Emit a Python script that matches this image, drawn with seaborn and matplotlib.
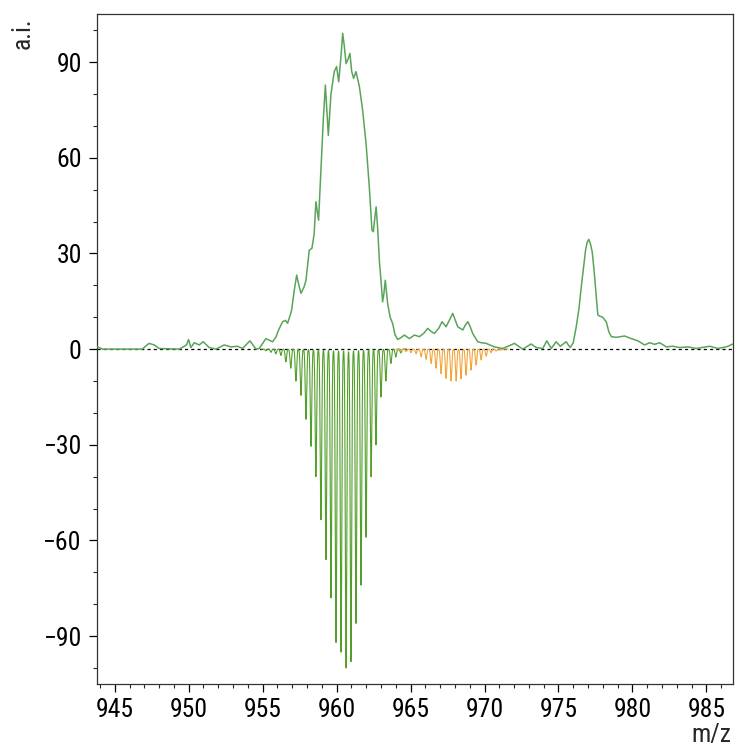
import numpy as np
import pandas as pd
import matplotlib
matplotlib.use("Agg")
import matplotlib.pyplot as plt
import seaborn as sns
from matplotlib.ticker import MultipleLocator
from matplotlib import font_manager

exp_mz = [943.83, 944.17, 946.87, 947.10, 947.33, 947.67, 948.00, 949.36, 949.85, 949.99, 950.15,
          950.37, 950.71, 950.98, 951.39, 951.84, 952.40, 952.86, 953.30, 953.64, 954.14,
          954.55, 954.77, 955.00, 955.22, 955.45, 955.67, 955.90, 956.08, 956.35, 956.55, 956.69,
          956.95, 957.14, 957.30, 957.45, 957.59, 957.80,
          957.93, 958.15, 958.33, 958.48, 958.60, 958.78, 958.94, 959.10, 959.24, 959.44, 959.62, 959.84,
          960.00, 960.14, 960.30, 960.41, 960.52, 960.64, 960.78, 960.90, 961.02, 961.15, 961.31, 961.54,
          961.76, 961.99, 962.21, 962.39, 962.48, 962.58, 962.67, 962.77, 962.90, 963.00, 963.11, 963.20,
          963.29, 963.45, 963.62, 963.79, 963.95,
          964.13, 964.35, 964.58, 964.92, 965.26, 965.60, 965.90, 966.16, 966.40, 966.61, 966.90,
          967.13, 967.40, 967.62, 967.85, 968.03,
          968.19, 968.53, 968.70, 968.87, 969.05, 969.20, 969.54, 969.80, 970.11, 970.67, 971.23, 971.60,
          972.02, 972.58, 973.15, 973.49, 973.94, 974.21, 974.51, 974.84, 975.12, 975.52, 975.79, 976.00,
          976.20, 976.38, 976.54, 976.70, 976.83, 976.94, 977.05, 977.16, 977.28, 977.40, 977.50, 977.66,
          977.80, 977.96, 978.23, 978.40, 978.57, 978.90,
          979.47, 979.92, 980.37, 980.82, 981.16, 981.50, 981.84, 982.29, 982.73, 983.19,
          983.75, 984.32, 985.22, 985.78, 986.35, 986.80]
exp_int = [0.7, 0.0, 0.0, 1.0, 1.8, 1.3, 0.2, 0.0, 1.3, 3.0, 0.5,
           2.0, 1.3, 2.3, 0.5, 0.0, 1.3, 0.7, 0.9, 0.2, 2.6,
           0.0, 0.2, 1.8, 3.3, 2.8, 2.3, 3.8, 6.0, 8.6, 9.0, 8.1,
           12.0, 18.5, 23.2, 20.0, 17.5, 19.5,
           21.6, 31.0, 31.6, 36.0, 46.2, 40.4, 56.0, 72.0, 82.8, 67.0, 80.0, 87.0,
           88.6, 83.8, 92.0, 99.0, 95.0, 89.5, 91.0, 92.7, 87.0, 84.9, 87.0, 82.3,
           74.9, 64.5, 50.9, 37.3, 36.8, 41.0, 44.6, 38.4, 27.0, 21.6, 14.8, 17.5,
           21.6, 14.3, 10.0, 8.0, 4.5,
           3.0, 3.6, 4.4, 3.3, 4.4, 3.9, 5.0, 6.5, 5.5, 4.9, 6.5,
           8.6, 7.0, 9.0, 11.2, 9.0,
           7.0, 6.0, 7.5, 8.6, 6.8, 4.9, 2.3, 2.0, 1.8, 0.7, 0.2, 0.9,
           1.8, 0.0, 1.6, 0.5, 0.2, 2.6, 0.2, 2.3, 0.9, 2.3, 0.5, 2.0,
           7.0, 12.5, 19.5, 26.0, 31.0, 33.5, 34.4, 33.0, 30.5, 25.0, 19.5, 10.7,
           10.3, 10.1, 8.6, 5.5, 3.9, 3.7,
           4.1, 3.3, 2.6, 1.3, 2.0, 1.5, 2.0, 0.7, 0.9, 0.5,
           0.7, 0.2, 0.9, 0.2, 0.7, 1.6]

# ---- simulated isotope pattern 1 (green, mirrored below) ----
sim1_mz = [955.22, 955.56, 955.89, 956.23, 956.57, 956.90, 957.25, 957.59, 957.93, 958.27,
           958.60, 958.94, 959.28, 959.62, 959.96, 960.30, 960.64, 960.97, 961.31, 961.65,
           961.99, 962.33, 962.66, 963.00, 963.33, 963.67, 964.00, 964.34]
sim1_int = [0.5, 1.0, 1.5, 2.0, 4.0, 6.0, 10.0, 14.5, 22.0, 30.5,
            40.0, 53.5, 66.0, 78.0, 92.0, 95.0, 100.0, 98.0, 86.0, 74.0,
            59.0, 40.0, 30.0, 15.0, 10.0, 4.5, 2.5, 1.2]

# ---- simulated isotope pattern 2 (orange, mirrored below) ----
sim2_mz = [964.36, 964.70, 965.03, 965.37, 965.71, 966.05, 966.39, 966.72, 967.06, 967.40,
           967.74, 968.08, 968.41, 968.75, 969.09, 969.43, 969.77, 970.11, 970.44, 970.78,
           971.12]
sim2_int = [0.5, 0.8, 1.1, 1.5, 2.4, 3.2, 4.5, 6.0, 7.7, 9.2,
            10.0, 10.0, 9.3, 8.2, 6.6, 5.0, 3.4, 2.2, 1.1, 0.6,
            0.3]

x_ticks = [945, 950, 955, 960, 965, 970, 975, 980, 985]
y_ticks = [-90, -60, -30, 0, 30, 60, 90]


def profile(centers, heights, lo, hi, sigma=0.05):
    grid = np.arange(lo, hi, 0.003)
    c = np.asarray(centers)[:, None]
    h = np.asarray(heights)[:, None]
    y = -(h * np.exp(-0.5 * ((grid[None, :] - c) / sigma) ** 2)).sum(axis=0)
    return pd.DataFrame({"mz": grid, "int": y})


sns.set_theme(style="ticks")
names = {f.name for f in font_manager.fontManager.ttflist}
if "Roboto Condensed" in names:
    main_font, fsize = "Roboto Condensed", 18.5
else:
    main_font, fsize = "Liberation Sans", 17
plt.rcParams["font.family"] = [main_font, "DejaVu Sans"]

fig = plt.figure(figsize=(7.37, 7.47), dpi=100)
ax = fig.add_axes([0.1316, 0.0843, 0.8630, 0.8967])

ax.axhline(0, color="black", lw=0.9, ls=(0, (2.5, 2.5)), zorder=1)

df1 = profile(sim1_mz, sim1_int, 954.9, 964.7)
df2 = profile(sim2_mz, sim2_int, 964.0, 971.6)
sns.lineplot(data=df1, x="mz", y="int", ax=ax, color="#52a02a", lw=0.8,
             estimator=None, sort=False, zorder=2)
sns.lineplot(data=df2, x="mz", y="int", ax=ax, color="#f2a53a", lw=0.8,
             estimator=None, sort=False, zorder=2)

exp_df = pd.DataFrame({"mz": exp_mz, "int": exp_int})
sns.lineplot(data=exp_df, x="mz", y="int", ax=ax, color="#5aa45a", lw=1.1,
             estimator=None, sort=False, zorder=3)

ax.set_xlim(943.8, 986.8)
ax.set_ylim(-105, 105)
ax.set_xticks(x_ticks)
ax.set_yticks(y_ticks)
ax.xaxis.set_minor_locator(MultipleLocator(1))
ax.yaxis.set_minor_locator(MultipleLocator(10))
ax.tick_params(axis="both", which="major", direction="out", length=6, width=0.9,
               labelsize=fsize, colors="black")
ax.tick_params(axis="x", which="major", pad=4)
ax.tick_params(axis="y", which="major", pad=5)
ax.tick_params(axis="both", which="minor", direction="out", length=3, width=0.8)
for s in ax.spines.values():
    s.set_visible(True)
    s.set_linewidth(0.9)
    s.set_color("#333333")
ax.set_xlabel("")
ax.set_ylabel("")

fig.text(0.031, 0.955, "a.i.", rotation=90, fontsize=fsize, ha="center", va="center")
fig.text(0.992, 0.0, "m/z", fontsize=fsize, ha="right", va="bottom")

fig.savefig("out.png", dpi=100)
